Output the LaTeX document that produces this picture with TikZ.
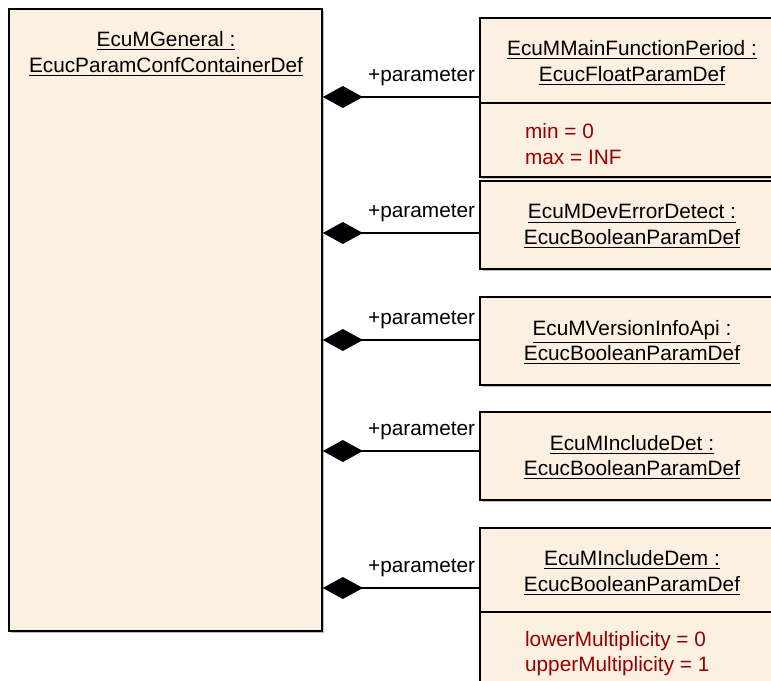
\documentclass[tikz,border=0pt]{standalone}
\usepackage{fontspec}
\setmainfont{Liberation Sans}
\usetikzlibrary{arrows.meta, shadows}
\definecolor{EcuBeige}{RGB}{251,240,225}
\definecolor{EcuRed}{RGB}{153,0,0}

\begin{document}
\begin{tikzpicture}[x=0.5pt, y=-0.5pt,
    cbox/.style={rectangle, draw=black, line width=0.9pt, fill=EcuBeige,
                 anchor=north west, inner sep=0pt,
                 drop shadow={shadow xshift=1pt, shadow yshift=-1pt, fill=black!25, opacity=1}},
    ttl/.style={align=center, font=\fontsize{10.4}{12.6}\selectfont},
    attr/.style={align=left, anchor=west, text=EcuRed, font=\fontsize{10.4}{12.6}\selectfont},
    comp/.style={-{Diamond[length=20pt, width=11pt]}, line width=0.9pt},
    role/.style={anchor=south east, inner sep=0pt, xshift=-1.5pt, yshift=5pt,
                 font=\fontsize{10.4}{12}\selectfont}
  ]
  \useasboundingbox (0,0) rectangle (771,680);

  % container
  \node[cbox, minimum width=156.5pt, minimum height=311pt] (gen) at (8,8) {};
  \node[ttl] (genT) at (166,54) {\underline{EcuMGeneral :}\\\underline{EcucParamConfContainerDef}};

  % parameters
  \node[cbox, minimum width=153pt, minimum height=79.5pt] (b1) at (479,17) {};
  \draw[line width=0.9pt] (b1.west |- 0,103) -- (b1.east |- 0,103);
  \node[ttl] (b1T) at (632,63) {\underline{EcuMMainFunctionPeriod :}\\\underline{EcucFloatParamDef}};
  \node[attr] (b1A) at (518,144) {min = 0\\max = INF};

  \node[cbox, minimum width=153pt, minimum height=44pt] (b2) at (479,180) {};
  \node[ttl] (b2T) at (632,226.5) {\underline{EcuMDevErrorDetect :}\\\underline{EcucBooleanParamDef}};

  \node[cbox, minimum width=153pt, minimum height=44pt] (b3) at (479,296) {};
  \node[ttl] (b3T) at (632,342.5) {\underline{EcuMVersionInfoApi :}\\\underline{EcucBooleanParamDef}};

  \node[cbox, minimum width=153pt, minimum height=44pt] (b4) at (479,411) {};
  \node[ttl] (b4T) at (632,457.5) {\underline{EcuMIncludeDet :}\\\underline{EcucBooleanParamDef}};

  \node[cbox, minimum width=153pt, minimum height=90pt] (b5) at (479,527) {};
  \draw[line width=0.9pt] (b5.west |- 0,612) -- (b5.east |- 0,612);
  \node[ttl] (b5T) at (632,573) {\underline{EcuMIncludeDem :}\\\underline{EcucBooleanParamDef}};
  \node[attr] (b5A) at (518,654) {lowerMultiplicity = 0\\upperMultiplicity = 1};

  % aggregations
  \foreach \b/\y in {b1/97, b2/233, b3/340, b4/451, b5/588}
    \draw[comp] (\b.west |- 0,\y) -- node[role, pos=0] {+parameter} (gen.east |- 0,\y);
\end{tikzpicture}
\end{document}
